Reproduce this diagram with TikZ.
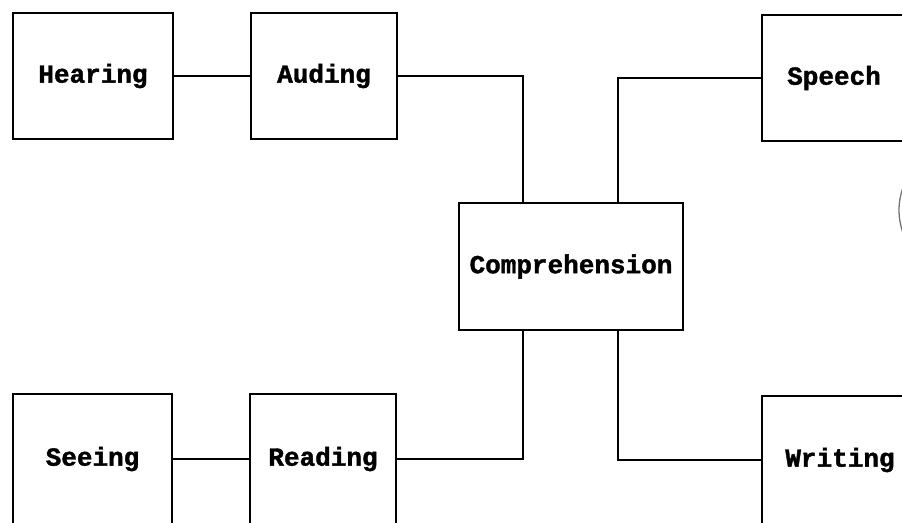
\documentclass[tikz,border=0pt]{standalone}
\usepackage{fontspec}
\newfontfamily\boxfont[BoldFeatures={FakeBold=1.5}]{Liberation Mono}
\begin{document}
\begin{tikzpicture}[x=1pt,y=-1pt,
  box/.style={draw, line width=1.6pt, rectangle, inner sep=0pt,
    font=\fontsize{26}{26}\boxfont\bfseries},
  link/.style={line width=1.6pt}]
\useasboundingbox (0,0) rectangle (902,522);
\clip (0,0) rectangle (902,522);

% input side
\node[box, minimum width=160pt, minimum height=126pt] (hearing) at (93,76) {Hearing};
\node[box, minimum width=146pt, minimum height=126pt] (auding)  at (324,76) {Auding};
\node[box, minimum width=159pt, minimum height=130pt] (seeing)  at (92.5,459) {Seeing};
\node[box, minimum width=146pt, minimum height=130pt] (reading) at (323,459) {Reading};

% centre
\node[box, minimum width=224pt, minimum height=127pt] (comp) at (571,266.5) {Comprehension};

% output side (running past the page edge)
\node[box, minimum width=144pt, minimum height=126pt] (speech)  at (834,78) {Speech};
\node[box, minimum width=156pt, minimum height=128pt] (writing) at (840,460) {Writing};

% connectors
\draw[link] (hearing.east) -- (auding.west);
\draw[link] (seeing.east) -- (reading.west);
\draw[link] (auding.east) -| ([xshift=-48pt]comp.north);
\draw[link] ([xshift=47pt]comp.north) |- (speech.west);
\draw[link] ([xshift=-48pt]comp.south) |- (reading.east);
\draw[link] ([xshift=47pt]comp.south) |- (writing.west);

% edge of a shape cut off at the right margin
\draw[line width=1.3pt, black!55] (905,183) .. controls (897,200) and (897,220) .. (905,238);
\end{tikzpicture}
\end{document}
